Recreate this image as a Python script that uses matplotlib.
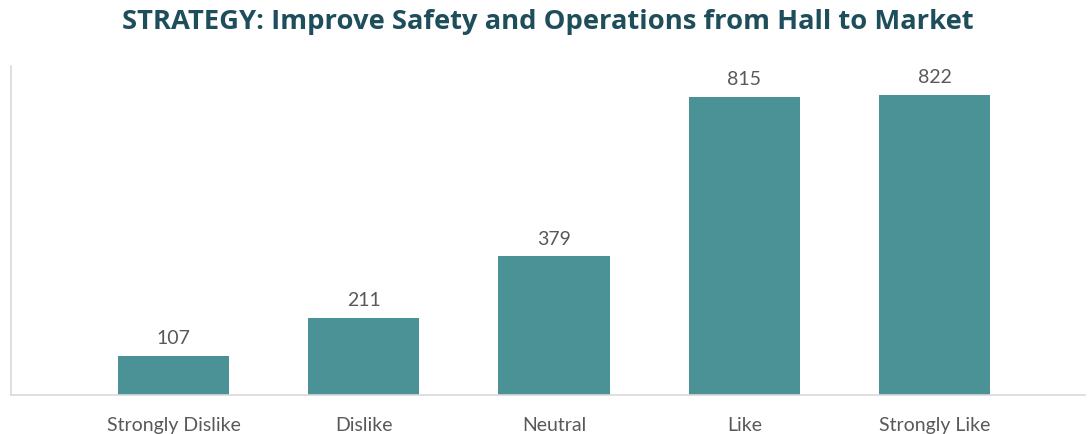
import matplotlib
matplotlib.use("Agg")
import matplotlib.pyplot as plt

categories = ["Strongly Dislike", "Dislike", "Neutral", "Like", "Strongly Like"]
values = [107, 211, 379, 815, 822]
title = "STRATEGY: Improve Safety and Operations from Hall to Market"

bar_color = "#4A9296"
text_color = "#595959"
title_color = "#1E4E5C"

fig = plt.figure(figsize=(10.89, 4.35), dpi=100)
ax = fig.add_axes([11/1089, 1 - 396/435, (1085 - 11)/1089, (396 - 67)/435])

x = list(range(len(categories)))
bars = ax.bar(x, values, width=0.585, color=bar_color, zorder=2)
for xi, v in zip(x, values):
    ax.annotate(str(v), (xi, v), xytext=(0, 7), textcoords="offset points",
                ha="center", va="bottom", fontsize=14, color=text_color, family="Lato")

ax.set_xlim(-0.854, 4.79)
ax.set_ylim(0, 900)
ax.set_xticks(x)
ax.set_xticklabels(categories, fontsize=14, color=text_color, family="Lato")
ax.tick_params(axis="x", length=0, pad=15)
ax.set_yticks([])
for s in ["top", "right"]:
    ax.spines[s].set_visible(False)
for s in ["left", "bottom"]:
    ax.spines[s].set_color("#D9D9D9")
    ax.spines[s].set_linewidth(1.2)

fig.text(548/1089, 1 - 22/435, title, ha="center", va="center", fontsize=19.7,
         fontweight="bold", color=title_color, family="Open Sans")

fig.savefig("out.png", dpi=100)
